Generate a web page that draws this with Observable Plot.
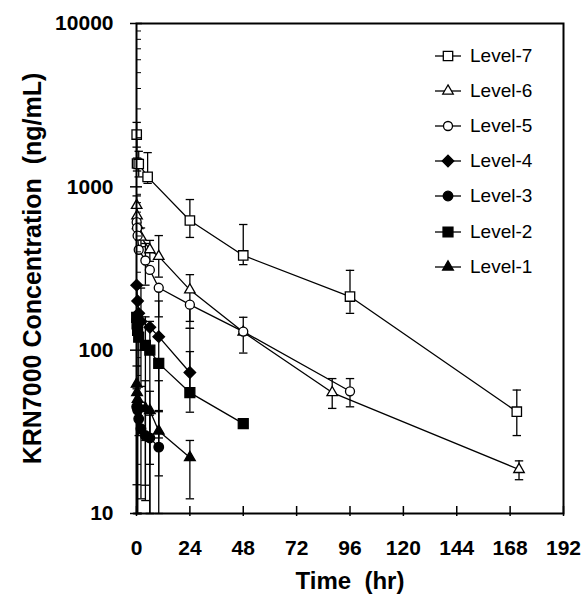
<!DOCTYPE html>
<html>
<head>
<meta charset="utf-8">
<script src="https://cdn.jsdelivr.net/npm/d3@7"></script>
<script src="https://cdn.jsdelivr.net/npm/@observablehq/plot@0.6"></script>
<style>
  html, body { margin: 0; padding: 0; background: #fff; }
  #wrap { position: relative; width: 586px; height: 596px; font-family: "Liberation Sans", Arial, sans-serif; }
  #wrap svg text { white-space: pre; }
  #legend { position: absolute; left: 432px; top: 38px; }
  .row { position: absolute; left: 0; height: 36px; display: flex; align-items: center; white-space: nowrap; }
  .row span { font-size: 19px; color: #000; margin-left: 8px; }
</style>
</head>
<body>
<div id="wrap"><div id="legend"></div></div>
<script>
// ---- data ----
const levels = ["Level-7", "Level-6", "Level-5", "Level-4", "Level-3", "Level-2", "Level-1"];
const levelSymbols = ["square", "triangle", "circle", "diamond2", "circle", "square", "triangle"];
const levelFilled = [false, false, false, true, true, true, true];

const level7Time = [0.083, 0.25, 1, 5, 24, 48, 96, 171];
const level7Conc = [2090, 1390, 1380, 1150, 622, 380, 213, 42];
const level7Lo   = [1750, 1250, 1150, 1050, 490, 334, 168, 30];
const level7Hi   = [2480, 1500, 1650, 1620, 836, 588, 308, 57];

const level6Time = [0.083, 0.25, 0.5, 2, 6, 10, 24, 48, 88, 172];
const level6Conc = [770, 665, 580, 492, 412, 375, 234, 129, 55, 18.6];
const level6Lo   = [null, null, null, 430, 350, 280, 150, 96, 44, 16.1];
const level6Hi   = [880, null, null, 560, 470, 503, 290, 159, 67, 21];

const level5Time = [0.083, 0.25, 0.5, 1, 4, 6, 10, 24, 48, 96];
const level5Conc = [608, 560, 502, 412, 354, 310, 241, 190, 130, 56];
const level5Lo   = [null, null, null, null, 250, null, 160, 136, null, 45];
const level5Hi   = [null, null, null, null, 450, null, null, null, null, 67];

const level4Time = [0.083, 0.5, 1, 2, 6, 10, 24];
const level4Conc = [250, 200, 168, 150, 138, 121, 73];
const level4Lo   = [null, null, null, 60, null, 42, 41.7];
const level4Hi   = [null, null, null, 240, null, 200, 136];

const level3Time = [0.083, 0.5, 1, 2, 4, 6, 10];
const level3Conc = [45, 43, 38, 33, 30, 29, 25.5];
const level3Lo   = [10, 10, null, 12.3, 14.9, 10, 10];
const level3Hi   = [58, null, null, 48, 44, 40, 65];

const level2Time = [0.083, 0.25, 0.5, 1, 4, 6, 10, 24, 48];
const level2Conc = [159, 145, 132, 120, 107, 100, 83, 55, 35.5];
const level2Lo   = [null, 10, null, 30, 28, 20, 29, null, null];
const level2Hi   = [null, null, null, null, 160, 150, null, 98, null];

const level1Time = [0.083, 0.25, 0.5, 1, 4, 6, 10, 24];
const level1Conc = [62, 55, 50, 46, 44, 42.7, 32, 22];
const level1Lo   = [15, null, 10, null, 12, 10, 17, 12.3];
const level1Hi   = [80, null, null, null, 65, 56, 42.7, 28];

const xTicks = [0, 24, 48, 72, 96, 120, 144, 168, 192];
const yTicks = [10, 100, 1000, 10000];
const yMinorTicks = [20, 30, 40, 50, 60, 70, 80, 90, 200, 300, 400, 500, 600, 700, 800, 900,
                     2000, 3000, 4000, 5000, 6000, 7000, 8000, 9000];
const xTitle = "Time  (hr)";
const yTitle = "KRN7000 Concentration  (ng/mL)";

// ---- build table ----
const seriesData = [
  [level7Time, level7Conc, level7Lo, level7Hi],
  [level6Time, level6Conc, level6Lo, level6Hi],
  [level5Time, level5Conc, level5Lo, level5Hi],
  [level4Time, level4Conc, level4Lo, level4Hi],
  [level3Time, level3Conc, level3Lo, level3Hi],
  [level2Time, level2Conc, level2Lo, level2Hi],
  [level1Time, level1Conc, level1Lo, level1Hi]
];
const rows = [];
seriesData.forEach(([T, C, L, H], i) => {
  T.forEach((t, j) => rows.push({level: levels[i], idx: i, t, c: C[j], lo: L[j], hi: H[j]}));
});
const errRows = rows.filter(d => d.lo != null || d.hi != null);
const capRows = [];
errRows.forEach(d => {
  if (d.lo != null) capRows.push({t: d.t, v: d.lo});
  if (d.hi != null) capRows.push({t: d.t, v: d.hi});
});

const capSymbol = {
  draw(context, size) {
    const r = Math.sqrt(size / Math.PI);
    context.moveTo(-r, 0);
    context.lineTo(r, 0);
  }
};

const markerR = {square: 5.3, triangle: 3.9, circle: 4.5, diamond2: 5.2};
const filledR = {square: 5.6, triangle: 4.0, circle: 4.8, diamond2: 5.2};

const dotMarks = levels.map((lv, i) => Plot.dot(rows.filter(d => d.idx === i), {
  x: "t", y: "c",
  symbol: levelSymbols[i],
  r: levelFilled[i] ? filledR[levelSymbols[i]] : markerR[levelSymbols[i]],
  fill: levelFilled[i] ? "black" : "white",
  stroke: "black",
  strokeWidth: 1.3
}));

const font = "Liberation Sans, Arial, sans-serif";

const chart = Plot.plot({
  width: 586,
  height: 596,
  marginLeft: 136,
  marginRight: 23,
  marginTop: 23,
  marginBottom: 83,
  style: {fontFamily: font, background: "white", color: "black"},
  x: {domain: [0, 192]},
  y: {type: "log", domain: [10, 10000]},
  marks: [
    Plot.ruleX(errRows, {x: "t", y1: d => d.lo ?? d.c, y2: d => d.hi ?? d.c, stroke: "black", strokeWidth: 1.3}),
    Plot.dot(capRows, {x: "t", y: "v", symbol: capSymbol, r: 4.2, stroke: "black", strokeWidth: 1.3}),
    Plot.line(rows, {x: "t", y: "c", z: "level", stroke: "black", strokeWidth: 1.3}),
    ...dotMarks,
    Plot.frame({stroke: "black", strokeWidth: 2}),
    // y axis: major (outside with labels), major inside, minor inside
    Plot.axisY({ticks: yTicks, tickSize: 6, tickPadding: 17, tickFormat: d => String(d), label: null,
                fontSize: 21, fontWeight: "bold", strokeWidth: 1.5}),
    Plot.axisY({ticks: yTicks, tickSize: -6, tickFormat: () => "", label: null, strokeWidth: 1.5}),
    Plot.axisY({ticks: yMinorTicks, tickSize: -5, tickFormat: () => "", label: null, strokeWidth: 1}),
    // x axis
    Plot.axisX({ticks: xTicks, tickSize: 3, tickPadding: 24, tickFormat: d => String(d), label: null,
                fontSize: 21, fontWeight: "bold", strokeWidth: 1.5}),
    Plot.axisX({ticks: xTicks, tickSize: -7, tickFormat: () => "", label: null, strokeWidth: 1.5}),
    // titles
    Plot.text([xTitle], {frameAnchor: "bottom", dy: 68, lineAnchor: "middle", textAnchor: "middle",
                         fontSize: 24, fontWeight: "bold", fill: "black"}),
    Plot.text([yTitle], {frameAnchor: "left", dx: -104, rotate: -90, textAnchor: "middle", lineAnchor: "middle",
                         fontSize: 25, fontWeight: "bold", fill: "black"})
  ]
});
document.getElementById("wrap").prepend(chart);

// ---- legend ----
const legend = d3.select("#legend");
levels.forEach((lv, i) => {
  const row = legend.append("div").attr("class", "row").style("top", (i * 35.1) + "px");
  const svg = row.append("svg").attr("width", 30).attr("height", 16);
  svg.append("line").attr("x1", 3).attr("x2", 29).attr("y1", 8).attr("y2", 8)
    .attr("stroke", "black").attr("stroke-width", 1.3);
  const symName = levelSymbols[i];
  const d3sym = {square: d3.symbolSquare, triangle: d3.symbolTriangle, circle: d3.symbolCircle, diamond2: d3.symbolDiamond2}[symName];
  const r = levelFilled[i] ? filledR[symName] : markerR[symName];
  svg.append("path")
    .attr("d", d3.symbol(d3sym, Math.PI * r * r)())
    .attr("transform", "translate(16,8)")
    .attr("fill", levelFilled[i] ? "black" : "white")
    .attr("stroke", "black").attr("stroke-width", 1.3);
  row.append("span").text(lv);
});
</script>
</body>
</html>
